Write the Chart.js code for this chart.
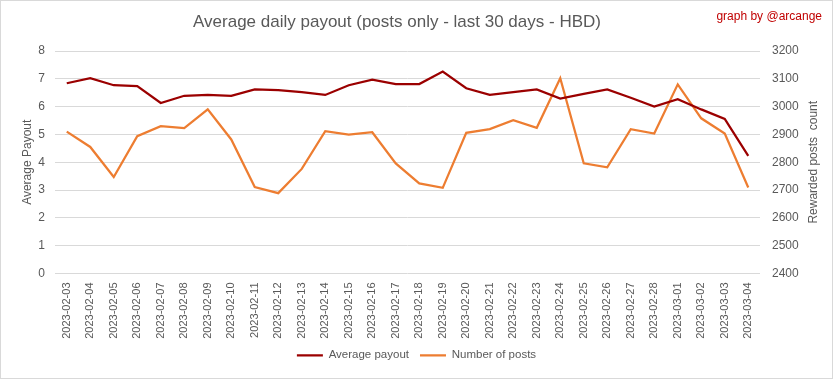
<!DOCTYPE html>
<html><head><meta charset="utf-8">
<script src="https://cdn.jsdelivr.net/npm/chart.js@4/dist/chart.umd.min.js"></script>
<style>
html,body{margin:0;padding:0;background:#fff;}
#wrap{position:relative;width:833px;height:379px;}
canvas{display:block;}
</style></head><body>
<div id="wrap"><canvas id="c" width="833" height="379"></canvas></div>
<script>
const categories = ["2023-02-03","2023-02-04","2023-02-05","2023-02-06","2023-02-07","2023-02-08","2023-02-09","2023-02-10","2023-02-11","2023-02-12","2023-02-13","2023-02-14","2023-02-15","2023-02-16","2023-02-17","2023-02-18","2023-02-19","2023-02-20","2023-02-21","2023-02-22","2023-02-23","2023-02-24","2023-02-25","2023-02-26","2023-02-27","2023-02-28","2023-03-01","2023-03-02","2023-03-03","2023-03-04"];
const averagePayout = [6.84,7.02,6.77,6.74,6.13,6.39,6.42,6.39,6.62,6.59,6.52,6.42,6.77,6.97,6.81,6.81,7.26,6.66,6.42,6.52,6.62,6.29,6.46,6.62,6.32,6.00,6.27,5.90,5.56,4.23];
const numberOfPosts = [2910,2855,2747,2894,2930,2923,2990,2882,2711,2689,2776,2912,2899,2908,2796,2724,2708,2906,2919,2951,2924,3102,2796,2782,2919,2903,3080,2958,2903,2709];
const leftTicks = [0,1,2,3,4,5,6,7,8];
const rightTicks = [2400,2500,2600,2700,2800,2900,3000,3100,3200];
const chartTitle = 'Average daily payout (posts only - last 30 days - HBD)';

const FONT = "'Liberation Sans',sans-serif";
const GREY = '#595959';

const extras = {
  id: 'extras',
  afterDraw(chart) {
    const ctx = chart.ctx;
    const ca = chart.chartArea;
    ctx.save();
    ctx.font = "17px " + FONT;
    ctx.fillStyle = GREY;
    ctx.textAlign = 'center';
    ctx.textBaseline = 'middle';
    ctx.fillText(chartTitle, 397, 22);
    ctx.font = "12px " + FONT;
    ctx.fillStyle = '#c00000';
    ctx.textAlign = 'right';
    ctx.fillText('graph by @arcange', 822, 17);
    ctx.translate(814, (ca.top + ca.bottom) / 2);
    ctx.rotate(-Math.PI / 2);
    ctx.textAlign = 'center';
    ctx.fillStyle = GREY;
    ctx.fillText('Rewarded posts  count', 0, 0);
    ctx.restore();
    ctx.save();
    ctx.strokeStyle = '#d9d9d9';
    ctx.lineWidth = 1;
    ctx.strokeRect(0.5, 0.5, 832, 378);
    ctx.restore();
  }
};

new Chart(document.getElementById('c'), {
  type: 'line',
  data: {
    labels: categories,
    datasets: [
      { label: 'Average payout', data: averagePayout, yAxisID: 'y', borderColor: '#9b0000', backgroundColor: '#9b0000', borderWidth: 2.25, pointRadius: 0, tension: 0 },
      { label: 'Number of posts', data: numberOfPosts, yAxisID: 'y1', borderColor: '#ed7d31', backgroundColor: '#ed7d31', borderWidth: 2.25, pointRadius: 0, tension: 0 }
    ]
  },
  options: {
    responsive: false,
    animation: false,
    layout: { padding: { left: 10, right: 10, top: 51, bottom: 8 } },
    plugins: {
      title: { display: false },
      legend: { position: 'bottom', labels: { color: GREY, font: { family: FONT, size: 11.5 }, usePointStyle: true, pointStyle: 'line', pointStyleWidth: 26, padding: 11 } },
      tooltip: { enabled: false }
    },
    scales: {
      x: {
        offset: true,
        grid: { display: false, drawTicks: false },
        border: { display: false },
        ticks: { color: GREY, font: { family: FONT, size: 11 }, maxRotation: 90, minRotation: 90, autoSkip: false, padding: 9 },
        afterFit(s) { s.height = 65; }
      },
      y: {
        position: 'left', min: 0, max: 8,
        afterBuildTicks(s) { s.ticks = leftTicks.map(v => ({ value: v })); },
        grid: { color: '#d9d9d9', lineWidth: 1, drawTicks: false },
        border: { display: false },
        ticks: { color: GREY, font: { family: FONT, size: 12 }, padding: 10 },
        title: { display: true, text: 'Average Payout', color: GREY, font: { family: FONT, size: 12 }, padding: { top: 10, bottom: 0 } },
        afterFit(s) { s.width = 45; }
      },
      y1: {
        position: 'right', min: 2400, max: 3200,
        afterBuildTicks(s) { s.ticks = rightTicks.map(v => ({ value: v })); },
        grid: { display: false, drawTicks: false },
        border: { display: false },
        ticks: { color: GREY, font: { family: FONT, size: 12 }, padding: 12, callback: (v) => String(v) },
        afterFit(s) { s.width = 63; }
      }
    }
  },
  plugins: [extras]
});
</script>
</body></html>
